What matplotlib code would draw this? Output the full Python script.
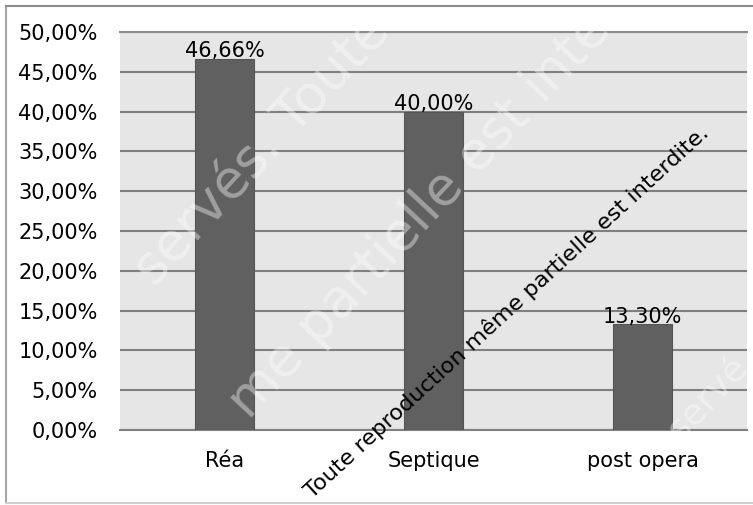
import matplotlib
matplotlib.use("Agg")
import matplotlib.pyplot as plt
from matplotlib.lines import Line2D

categories = ["Réa", "Septique", "post opera"]
values = [46.66, 40.00, 13.30]
value_labels = ["46,66%", "40,00%", "13,30%"]
yticks = [0, 5, 10, 15, 20, 25, 30, 35, 40, 45, 50]
ytick_labels = ["0,00%", "5,00%", "10,00%", "15,00%", "20,00%", "25,00%",
                "30,00%", "35,00%", "40,00%", "45,00%", "50,00%"]

W, H = 753, 505
fig = plt.figure(figsize=(W / 100, H / 100), dpi=100)
fig.patch.set_facecolor("white")

FONT = "DejaVu Sans"
FS = 15

# outer chart frame
fig.add_artist(Line2D([6 / W, 6 / W], [1 - 6 / H, 1 - 503 / H], color="#a6a6a6", lw=1.5))
fig.add_artist(Line2D([6 / W, 1], [1 - 6 / H, 1 - 6 / H], color="#8c8c8c", lw=1.5))
fig.add_artist(Line2D([6 / W, 1], [1 - 503 / H, 1 - 503 / H], color="#cfcfcf", lw=1.5))

ax = fig.add_axes([120 / W, 1 - 430 / H, (747 - 120) / W, (430 - 32) / H])
ax.set_facecolor("#e6e6e6")

x = list(range(len(categories)))
ax.bar(x, values, width=0.28, color="#606060", edgecolor="#555555", linewidth=0.8, zorder=3)
for xi, v, lab in zip(x, values, value_labels):
    ax.text(xi, v - 0.3, lab, ha="center", va="bottom", fontsize=FS, family=FONT,
            color="black", zorder=5)

ax.set_xlim(-0.5, len(categories) - 0.5)
ax.set_ylim(0, 50)
ax.set_yticks(yticks)
ax.set_yticklabels(ytick_labels, family=FONT, fontsize=FS)
ax.set_xticks(x)
ax.set_xticklabels(categories, family=FONT, fontsize=FS)
ax.tick_params(axis="both", length=0, colors="black")
ax.tick_params(axis="y", pad=16)
ax.tick_params(axis="x", pad=15)
ax.grid(axis="y", color="#808080", linewidth=1.5, zorder=1)
for s in ["left", "right"]:
    ax.spines[s].set_visible(False)
ax.spines["top"].set_color("#8c8c8c")
ax.spines["top"].set_linewidth(1.5)
ax.spines["bottom"].set_color("#808080")
ax.spines["bottom"].set_linewidth(1.5)

# faint white watermarks
wm_kw = dict(color="white", alpha=0.4, fontsize=38, rotation=47, family="DejaVu Sans",
             ha="center", va="center", rotation_mode="anchor", zorder=10)
fig.text(262 / W, 1 - 150 / H, "servés. Toute", **wm_kw)
fig.text(420 / W, 1 - 215 / H, "me partielle est inte", **wm_kw)
fig.text(708 / W, 1 - 398 / H, "servé", **dict(wm_kw, fontsize=26))

# black watermark
fig.text(507 / W, 1 - 312 / H, "Toute reproduction même partielle est interdite.",
         color="black", fontsize=16.2, rotation=42.5, family="DejaVu Sans",
         ha="center", va="center", rotation_mode="anchor", zorder=11)

fig.savefig("out.png", dpi=100)
